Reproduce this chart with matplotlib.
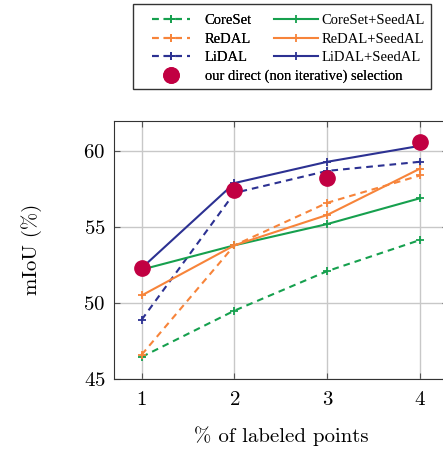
import numpy as np
import matplotlib
matplotlib.use("Agg")
import matplotlib.pyplot as plt
from matplotlib.lines import Line2D
from matplotlib.patches import Rectangle

# labeled fraction (%)
pct = [1, 2, 3, 4]

coreset = [46.45, 49.5, 52.1, 54.15]
coreset_seed = [52.2, 53.8, 55.2, 56.9]
redal = [46.6, 53.8, 56.6, 58.4]
redal_seed = [50.5, 53.8, 55.8, 58.85]
lidal = [48.9, 57.25, 58.7, 59.3]
lidal_seed = [52.3, 57.9, 59.3, 60.35]
direct = [52.3, 57.45, 58.2, 60.6]

names = ["CoreSet", "ReDAL", "LiDAL"]
names_seed = ["CoreSet+SeedAL", "ReDAL+SeedAL", "LiDAL+SeedAL"]
direct_name = "our direct (non iterative) selection"

green = "#16a04e"
orange = "#f7843a"
navy = "#2c3192"
crimson = "#c10042"

plt.rcParams["font.family"] = "cmr10"
plt.rcParams["mathtext.fontset"] = "cm"
plt.rcParams["axes.formatter.use_mathtext"] = True

fig = plt.figure(figsize=(4.43, 4.49), dpi=100)
ax = fig.add_axes([0.257, 0.156, 0.754, 0.575])

dash = (0, (3.2, 2.4))
lw = 1.5
ms = 6
for ys, c in [(coreset, green), (redal, orange), (lidal, navy)]:
    ax.plot(pct, ys, color=c, ls=dash, lw=lw, marker="+", ms=ms, mew=1.3)
for ys, c in [(coreset_seed, green), (redal_seed, orange), (lidal_seed, navy)]:
    ax.plot(pct, ys, color=c, ls="-", lw=lw, marker="+", ms=ms, mew=1.3)
ax.plot(pct, direct, ls="none", marker="o", ms=11, color=crimson, zorder=5)

ax.set_xlim(0.7, 4.3)
ax.set_ylim(45, 62)
ax.set_xticks(pct)
ax.set_yticks([45, 50, 55, 60])
ax.grid(True, color="#c8c8c8", lw=1.0)
ax.set_axisbelow(True)
ax.tick_params(direction="in", top=True, right=True, labelsize=15, length=4,
               color="#555555")
ax.tick_params(axis="x", pad=9)
ax.tick_params(axis="y", pad=6)
for s in ax.spines.values():
    s.set_color("#333333")
ax.set_ylabel("mIoU (%)", fontsize=15, labelpad=30)
ax.set_xlabel("% of labeled points", fontsize=15, labelpad=12)

# legend: two columns built separately
lfont = {"family": "Liberation Serif", "size": 10.5}
h1 = [Line2D([], [], color=c, ls=dash, lw=lw, marker="+", ms=ms, mew=1.3)
      for c in [green, orange, navy]]
h1.append(Line2D([], [], ls="none", marker="o", ms=11, color=crimson))
h2 = [Line2D([], [], color=c, ls="-", lw=lw, marker="+", ms=ms, mew=1.3)
      for c in [green, orange, navy]]
leg1 = fig.legend(h1, names + [direct_name], loc="upper left",
                  bbox_to_anchor=(0.327, 0.985), frameon=False, prop=lfont,
                  borderpad=0, handlelength=2.6, labelspacing=0.36,
                  handletextpad=1.0)
leg2 = fig.legend(h2, names_seed, loc="upper left",
                  bbox_to_anchor=(0.603, 0.985), frameon=False, prop=lfont,
                  borderpad=0, handlelength=3.0, labelspacing=0.36,
                  handletextpad=0.25)
fig.add_artist(leg1)
fig.patches.append(Rectangle((0.300, 0.801), 0.673, 0.190, transform=fig.transFigure,
                             fill=False, edgecolor="#333333", lw=1.0))

fig.savefig("out.png", dpi=100)
